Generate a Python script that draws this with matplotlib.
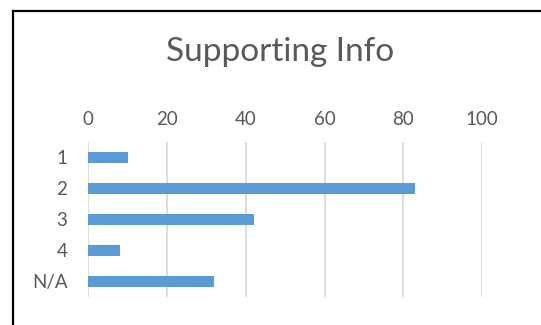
import matplotlib
matplotlib.use("Agg")
import matplotlib.pyplot as plt
from matplotlib.lines import Line2D

categories = ["1", "2", "3", "4", "N/A"]
counts = [10, 83, 42, 8, 32]
x_ticks = [0, 20, 40, 60, 80, 100]

plt.rcParams["font.family"] = ["Lato", "DejaVu Sans"]
text_grey = "#595959"

fig = plt.figure(figsize=(5.41, 3.25), dpi=100)
ax = fig.add_axes([0.1632, 0.0862, 0.7283, 0.4769])

ax.barh(categories, counts, height=0.37, color="#5B9BD5", zorder=3)
ax.set_xlim(0, 100)
ax.set_ylim(len(categories) - 0.5, -0.5)
ax.set_xticks(x_ticks)

# value axis sits above the bars
ax.xaxis.tick_top()
ax.tick_params(axis="x", length=0, pad=10, labelsize=13.5, colors=text_grey)
ax.tick_params(axis="y", length=0, pad=15, labelsize=13.5, colors=text_grey)
ax.grid(axis="x", color="#D9D9D9", linewidth=1.3, zorder=0)
for side in ax.spines.values():
    side.set_visible(False)

fig.text(0.518, 0.84, "Supporting Info", ha="center", va="center",
         fontsize=24, color=text_grey)

# chart area border: only the top and left edges fall inside the image
top = 1 - 11 / 325
left = 12.5 / 541
fig.add_artist(Line2D([left, 1.01], [top, top], transform=fig.transFigure,
                      color="black", linewidth=1.6))
fig.add_artist(Line2D([left, left], [-0.01, top], transform=fig.transFigure,
                      color="black", linewidth=1.6))

fig.savefig("out.png", dpi=100)
